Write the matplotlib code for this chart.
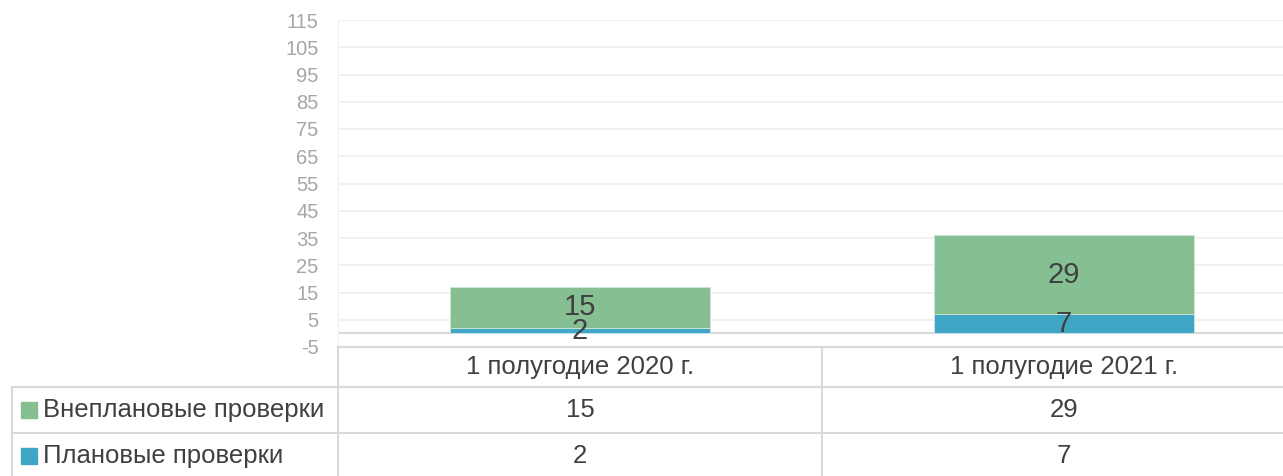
import matplotlib
matplotlib.use("Agg")
import matplotlib.pyplot as plt
from matplotlib import font_manager
from matplotlib.transforms import blended_transform_factory
from matplotlib.patches import Rectangle

categories = ["1 полугодие 2020 г.", "1 полугодие 2021 г."]
series_names = ["Внеплановые проверки", "Плановые проверки"]
planned = [2, 7]
unplanned = [15, 29]
yticks = list(range(-5, 116, 10))

names = {f.name for f in font_manager.fontManager.ttflist}
fam = "Liberation Sans Narrow" if "Liberation Sans Narrow" in names else "Liberation Sans"
plt.rcParams["font.family"] = [fam, "DejaVu Sans"]

GREEN = "#85BF92"
BLUE = "#3FA6C5"
TXT = "#404040"
LINE = "#d9d9d9"

W, H = 1283, 476
fig = plt.figure(figsize=(W / 100, H / 100), dpi=100)
ax_left, ax_right_px, ax_top, ax_bot = 338, 338 + 968, 20, 347
ax = fig.add_axes([ax_left / W, (H - ax_bot) / H, (ax_right_px - ax_left) / W, (ax_bot - ax_top) / H])

x = list(range(len(categories)))
bw = 0.537
b1 = ax.bar(x, planned, bw, color=BLUE, edgecolor="#cfe6ee", linewidth=0.6, zorder=3)
b2 = ax.bar(x, unplanned, bw, bottom=planned, color=GREEN, edgecolor="#cfe6d4", linewidth=0.6, zorder=3)
ax.bar_label(b1, labels=[str(v) for v in planned], label_type="center", fontsize=21, color=TXT, zorder=5)
ax.bar_label(b2, labels=[str(v) for v in unplanned], label_type="center", fontsize=21, color=TXT, zorder=5)

ax.set_xlim(-0.5, 1.5)
ax.set_ylim(-5, 115)
ax.set_yticks(yticks)
ax.set_yticklabels([str(t) for t in yticks], fontsize=14.5, color="#a6a6a6")
ax.tick_params(axis="y", length=0, pad=14)
ax.set_xticks([])
ax.grid(axis="y", color="#efefef", linewidth=1.2, zorder=0)
ax.axhline(0, color=LINE, linewidth=1.5, zorder=2)
for s in ["top", "right"]:
    ax.spines[s].set_visible(False)
ax.spines["left"].set_color("#efefef")
ax.spines["bottom"].set_color(LINE)
ax.spines["bottom"].set_linewidth(1.5)

# data table below the chart
ft = fig.transFigure
bt = blended_transform_factory(ax.transData, ft)
def fy(py):
    return (H - py) / H
def fx(px):
    return px / W

lk = dict(color=LINE, linewidth=1.5, transform=ft, clip_on=False)
fig.add_artist(plt.Line2D([fx(12), fx(1306)], [fy(387), fy(387)], **lk))
fig.add_artist(plt.Line2D([fx(12), fx(1306)], [fy(433), fy(433)], **lk))
fig.add_artist(plt.Line2D([fx(12), fx(12)], [fy(387), fy(479)], **lk))
fig.add_artist(plt.Line2D([fx(338), fx(338)], [fy(347), fy(479)], **lk))
fig.add_artist(plt.Line2D([fx(822), fx(822)], [fy(347), fy(479)], **lk))

TS = 18.5
for i, c in enumerate(categories):
    fig.text(x[i], fy(367), c, transform=bt, ha="center", va="center", fontsize=TS, color=TXT)
    fig.text(x[i], fy(410), str(unplanned[i]), transform=bt, ha="center", va="center", fontsize=TS, color=TXT)
    fig.text(x[i], fy(456), str(planned[i]), transform=bt, ha="center", va="center", fontsize=TS, color=TXT)

for name, col, py in [(series_names[0], GREEN, 410), (series_names[1], BLUE, 456)]:
    fig.add_artist(Rectangle((fx(21), fy(py + 8)), 16 / W, 16 / H, transform=ft, color=col))
    fig.text(fx(43), fy(py), name, ha="left", va="center", fontsize=TS, color=TXT)

fig.savefig("out.png", dpi=100)
